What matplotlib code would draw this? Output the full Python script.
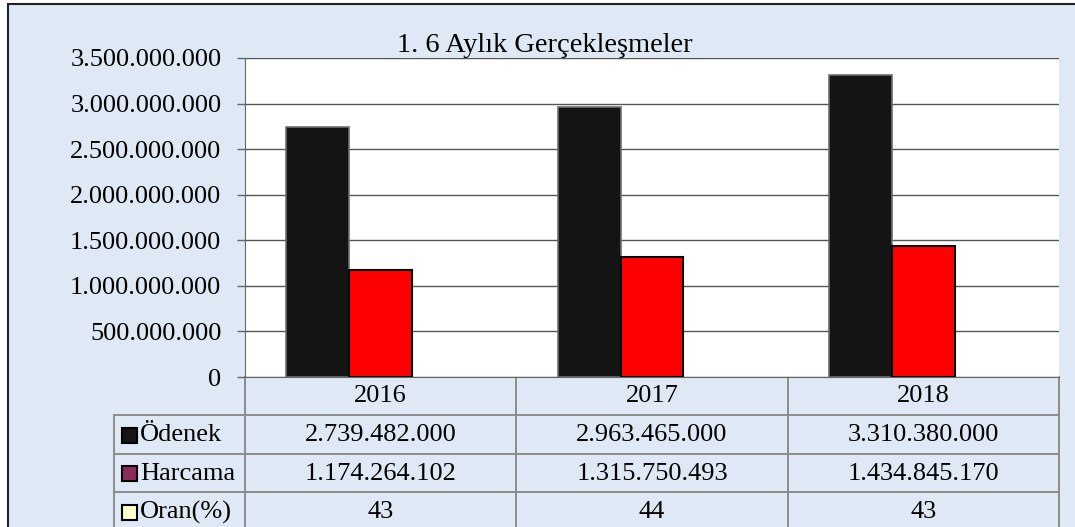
import matplotlib
matplotlib.use("Agg")
import matplotlib.pyplot as plt
from matplotlib.lines import Line2D
from matplotlib.patches import Rectangle
from matplotlib.ticker import FuncFormatter

plt.rcParams['font.family'] = ['Liberation Serif', 'DejaVu Serif']

# ---- data ----
years = ["2016", "2017", "2018"]
series_names = ["Ödenek", "Harcama", "Oran(%)"]
odenek = [2739482000, 2963465000, 3310380000]
harcama = [1174264102, 1315750493, 1434845170]
oran = [43, 44, 43]
odenek_txt = ["2.739.482.000", "2.963.465.000", "3.310.380.000"]
harcama_txt = ["1.174.264.102", "1.315.750.493", "1.434.845.170"]
oran_txt = ["43", "44", "43"]
title = "1. 6 Aylık Gerçekleşmeler"
yticks = [0, 500000000, 1000000000, 1500000000, 2000000000, 2500000000, 3000000000, 3500000000]

W, H = 1075, 527
FS = 19
fig = plt.figure(figsize=(W / 100, H / 100), dpi=100)
fig.patch.set_facecolor("white")

BG = "#DEE9F5"
fig.patches.append(Rectangle((8 / W, -0.1), 1.2, (H - 4) / H + 0.1, transform=fig.transFigure,
                             facecolor=BG, edgecolor="#222222", lw=1.5, zorder=-5))

ax = fig.add_axes([245 / W, 150 / H, (1059 - 245) / W, (377 - 58) / H])
ax.set_zorder(2)
ax.set_facecolor("white")

x = list(range(len(years)))
w = 0.232
ax.bar([i - w for i in x], odenek, width=w, color="#141414", edgecolor="#6e6e6e", lw=1.2, zorder=3)
ax.bar(x, harcama, width=w, color="#ff0000", edgecolor="#000000", lw=1.5, zorder=3)
ax.bar([i + w for i in x], oran, width=w, color="#ffffcc", edgecolor="#000000", lw=0.5, zorder=3)

ax.set_xlim(-0.5, len(years) - 0.5)
ax.set_ylim(0, 3500000000)
ax.set_yticks(yticks)
ax.yaxis.set_major_formatter(FuncFormatter(lambda v, p: "0" if v == 0 else f"{int(v):,}".replace(",", ".")))
ax.tick_params(axis="y", labelsize=FS, length=6, width=1, color="#666666", pad=11)
ax.set_xticks([])
ax.grid(axis="y", color="#555555", lw=1, zorder=1)
for s in ["top", "right"]:
    ax.spines[s].set_visible(False)
ax.spines["left"].set_color("#666666")
ax.spines["bottom"].set_color("#666666")

fig.text(545 / W, 1 - 52 / H, title, ha="center", va="baseline", fontsize=20.5, zorder=6)

# ---- data table ----
def fx(px):
    return px / W

def fy(py):
    return 1 - py / H

tc = "#8c8c8c"
lw = 1.4

def data_to_fig_x(xd):
    disp = ax.transData.transform((xd, 0))
    return fig.transFigure.inverted().transform(disp)[0]

bounds = [data_to_fig_x(b) for b in [-0.5, 0.5, 1.5, 2.5]]
left_x = fx(114)
rows_y = [377, 415, 454, 492, 531]

for b in bounds:
    fig.add_artist(Line2D([b, b], [fy(377), fy(531)], color=tc, lw=lw, transform=fig.transFigure))
fig.add_artist(Line2D([left_x, left_x], [fy(415), fy(531)], color=tc, lw=lw, transform=fig.transFigure))
for ry in rows_y[1:4]:
    fig.add_artist(Line2D([left_x, bounds[-1]], [fy(ry), fy(ry)], color=tc, lw=lw, transform=fig.transFigure))

for i, yr in enumerate(years):
    fig.text(data_to_fig_x(i), fy(396), yr, ha="center", va="center", fontsize=FS)

rows = [odenek_txt, harcama_txt, oran_txt]
key_colors = ["#151515", "#8e2a5e", "#ffffcc"]
for r, (name, vals, kc) in enumerate(zip(series_names, rows, key_colors)):
    yc = (rows_y[r + 1] + rows_y[r + 2]) / 2 + 0.5
    fig.patches.append(Rectangle((fx(122), fy(yc + 7.5)), 15 / W, 15 / H, transform=fig.transFigure,
                                 facecolor=kc, edgecolor="#000000", lw=1.5, zorder=5))
    fig.text(fx(140), fy(yc), name, ha="left", va="center", fontsize=FS)
    for i, v in enumerate(vals):
        fig.text(data_to_fig_x(i), fy(yc), v, ha="center", va="center", fontsize=FS)

fig.savefig("out.png", dpi=100)
